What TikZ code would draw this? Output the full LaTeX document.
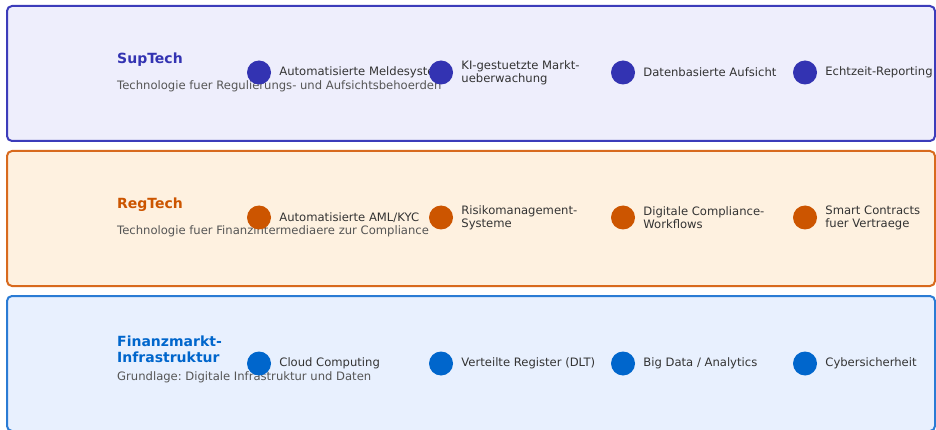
\documentclass[tikz,border=0pt]{standalone}
\usepackage{fontspec}
\setmainfont{DejaVu Sans}
\usepackage{xcolor}
\usetikzlibrary{positioning}
\frenchspacing
\definecolor{supline}{HTML}{3C3CBA}
\definecolor{supfill}{HTML}{EEEEFC}
\definecolor{supdot}{HTML}{3333B2}
\definecolor{regline}{HTML}{D86A1E}
\definecolor{regfill}{HTML}{FEF1E0}
\definecolor{regdot}{HTML}{CC5500}
\definecolor{infline}{HTML}{2A7BD4}
\definecolor{inffill}{HTML}{E8F0FE}
\definecolor{infdot}{HTML}{0066CC}
\definecolor{ink}{HTML}{333333}
\definecolor{muted}{HTML}{555555}
\newcommand{\Entry}[5]{%
  \node[dot,fill=#4] (#1) at (#2,#3) {};
  \node[entry,right=8pt of #1] (#1txt) {#5};
}

\begin{document}
\begin{tikzpicture}[x=1pt,y=-1pt,
  band/.style={line width=2pt,rounded corners=5pt},
  dot/.style={circle,inner sep=0pt,minimum size=24pt},
  entry/.style={inner sep=0pt,align=left,text=ink,font=\fontsize{11.6}{13}\selectfont},
  title/.style={inner sep=0pt,anchor=base west,align=left,font=\fontsize{14}{16}\selectfont\bfseries},
  sub/.style={inner sep=0pt,anchor=base west,text=muted,font=\fontsize{11.6}{13}\selectfont}]
  \useasboundingbox (0,0) rectangle (936,430);

  % SupTech
  \draw[band,draw=supline,fill=supfill] (7,6) rectangle (935,141);
  \node[title,text=supdot] (suptitle) at (117,64) {SupTech};
  \node[sub] (supsub) at (117,89.5) {Technologie fuer Regulierungs- und Aufsichtsbehoerden};
  \Entry{sup1}{259}{72.5}{supdot}{Automatisierte Meldesysteme}
  \Entry{sup2}{441}{72.5}{supdot}{KI-gestuetzte Markt-\\ueberwachung}
  \Entry{sup3}{623}{72.5}{supdot}{Datenbasierte Aufsicht}
  \Entry{sup4}{805}{72.5}{supdot}{Echtzeit-Reporting}

  % RegTech
  \draw[band,draw=regline,fill=regfill] (7,151) rectangle (935,286);
  \node[title,text=regdot] (regtitle) at (117,209) {RegTech};
  \node[sub] (regsub) at (117,234.5) {Technologie fuer Finanzintermediaere zur Compliance};
  \Entry{reg1}{259}{217.5}{regdot}{Automatisierte AML/KYC}
  \Entry{reg2}{441}{217.5}{regdot}{Risikomanagement-\\Systeme}
  \Entry{reg3}{623}{217.5}{regdot}{Digitale Compliance-\\Workflows}
  \Entry{reg4}{805}{217.5}{regdot}{Smart Contracts\\fuer Vertraege}

  % Infrastruktur (title on two lines, base = last line)
  \draw[band,draw=infline,fill=inffill] (7,296) rectangle (935,431);
  \node[title,text=infdot] (inftitle) at (117,362.7) {Finanzmarkt-\\Infrastruktur};
  \node[sub] (infsub) at (117,380) {Grundlage: Digitale Infrastruktur und Daten};
  \Entry{inf1}{259}{363.5}{infdot}{Cloud Computing}
  \Entry{inf2}{441}{363.5}{infdot}{Verteilte Register (DLT)}
  \Entry{inf3}{623}{363.5}{infdot}{Big Data / Analytics}
  \Entry{inf4}{805}{363.5}{infdot}{Cybersicherheit}
\end{tikzpicture}
\end{document}
